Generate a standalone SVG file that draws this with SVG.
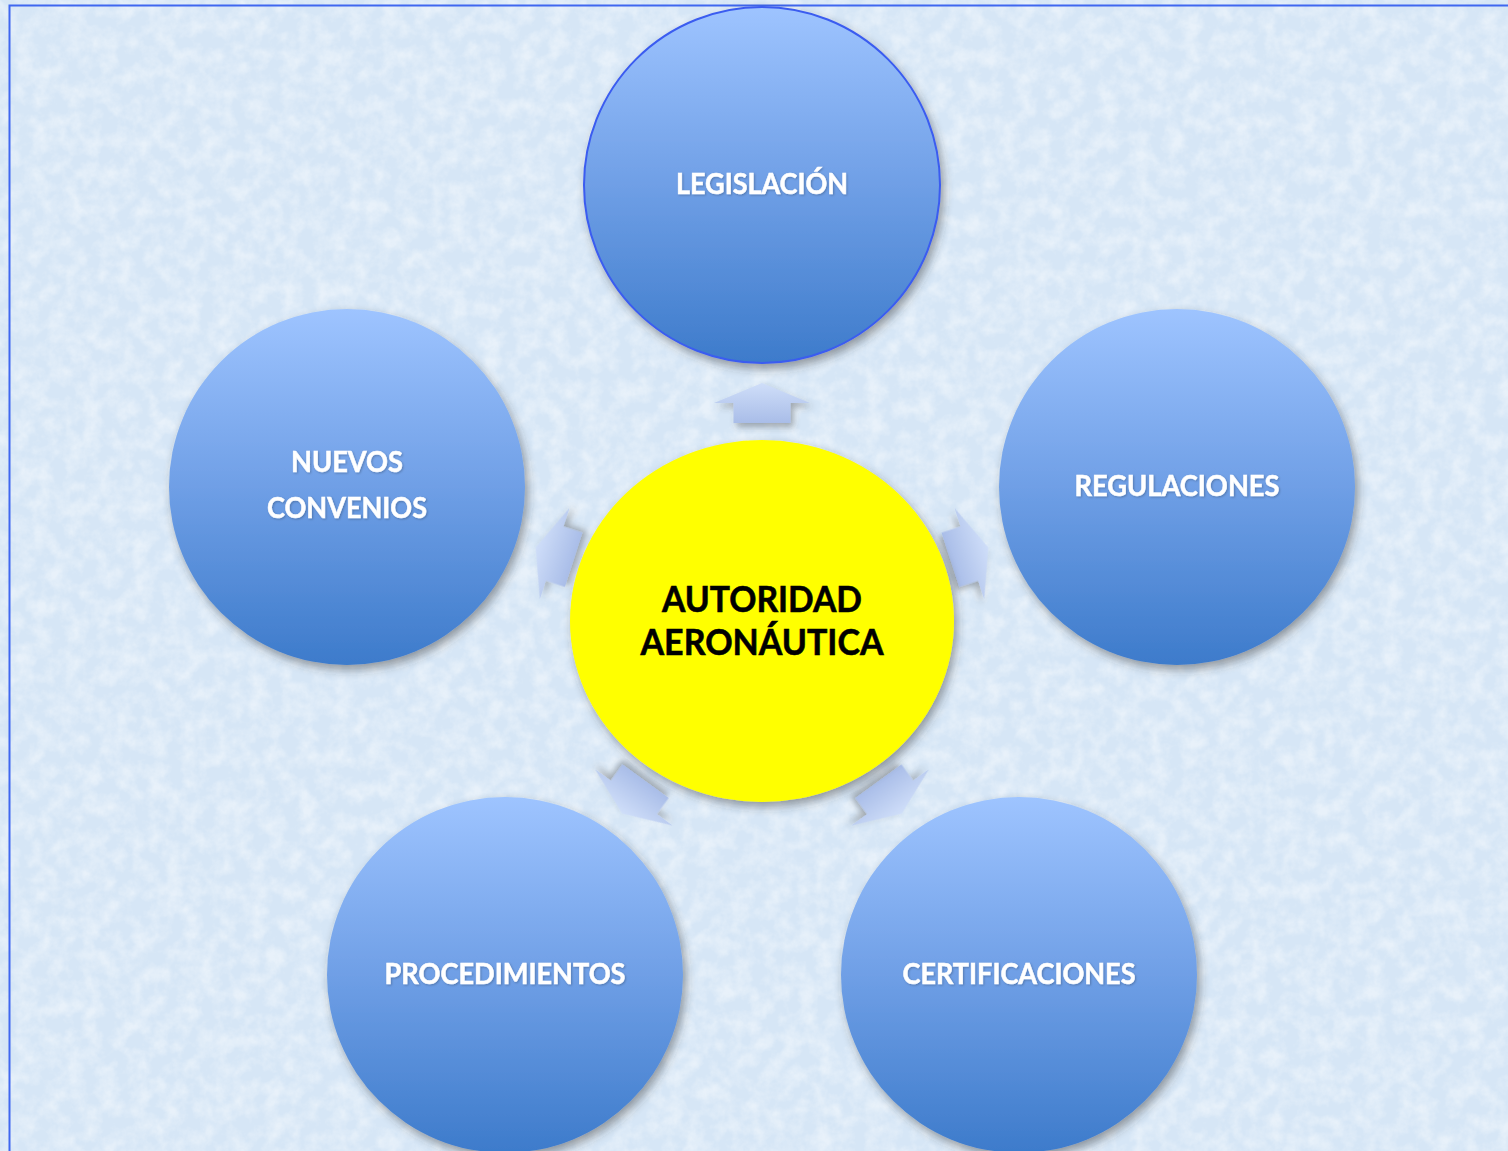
<svg xmlns="http://www.w3.org/2000/svg" xmlns:xlink="http://www.w3.org/1999/xlink" width="1508" height="1151" viewBox="0 0 1508 1151">
  <defs>
    <style>
      .lbl { font-family: Lato, "Open Sans", "Liberation Sans", sans-serif; font-weight: bold; fill: #ffffff; stroke: #ffffff; stroke-width: 0.5px; font-size: 28px; text-anchor: middle; }
      .ctr { font-family: Lato, "Open Sans", "Liberation Sans", sans-serif; font-weight: bold; fill: #000000; stroke: #000000; stroke-width: 0.6px; font-size: 37px; text-anchor: middle; }
      .node { fill: url(#blueGrad); filter: url(#shadow); }
      .arrow { fill: url(#arrowGrad); filter: url(#ashadow); }
    </style>
    <linearGradient id="blueGrad" x1="0" y1="0" x2="0" y2="1">
      <stop offset="0" stop-color="#9ec4ff"/>
      <stop offset="0.5" stop-color="#6f9fe6"/>
      <stop offset="1" stop-color="#3d7bcb"/>
    </linearGradient>
    <linearGradient id="arrowGrad" x1="0" y1="0" x2="0" y2="1">
      <stop offset="0" stop-color="#cfdef9"/>
      <stop offset="1" stop-color="#a9bde8"/>
    </linearGradient>
    <filter id="shadow" x="-20%" y="-20%" width="140%" height="140%">
      <feDropShadow dx="3" dy="5" stdDeviation="5" flood-color="#333333" flood-opacity="0.45"/>
    </filter>
    <filter id="ashadow" x="-40%" y="-40%" width="180%" height="180%">
      <feDropShadow dx="3" dy="4" stdDeviation="3" flood-color="#444444" flood-opacity="0.4"/>
    </filter>
    <filter id="tshadow" x="-10%" y="-30%" width="120%" height="160%">
      <feDropShadow dx="1" dy="1" stdDeviation="0.8" flood-color="#000000" flood-opacity="0.25"/>
    </filter>
    <filter id="texture" x="0" y="0" width="100%" height="100%">
      <feTurbulence type="fractalNoise" baseFrequency="0.06" numOctaves="4" seed="7" result="n"/>
      <feColorMatrix in="n" type="matrix" values="0 0 0 0 1  0 0 0 0 1  0 0 0 0 1  0 0 0 -2.0 1.3" />
    </filter>
    <path id="arr" d="M762,383 L810,403 L790.5,403 L790.5,423 L733.5,423 L733.5,403 L714,403 Z"/>
  </defs>

  <!-- background -->
  <rect x="0" y="0" width="1508" height="1151" fill="#d6e6f6"/>
  <rect x="0" y="0" width="1508" height="1151" filter="url(#texture)" opacity="0.45"/>
  <rect x="9.5" y="5.5" width="1520" height="1160" fill="none" stroke="#3f67f0" stroke-width="2"/>

  <g id="connectors">
    <use xlink:href="#arr" class="arrow"/>
    <use xlink:href="#arr" class="arrow" transform="rotate(72 762 621)"/>
    <use xlink:href="#arr" class="arrow" transform="rotate(144 762 621)"/>
    <use xlink:href="#arr" class="arrow" transform="rotate(-144 762 621)"/>
    <use xlink:href="#arr" class="arrow" transform="rotate(-72 762 621)"/>
  </g>

  <g id="node-legislacion">
    <circle class="node" cx="762" cy="185" r="178" stroke="#3a5cf0" stroke-width="2"/>
    <text class="lbl" x="762" y="194" textLength="172" lengthAdjust="spacingAndGlyphs" filter="url(#tshadow)">LEGISLACIÓN</text>
  </g>

  <g id="node-nuevos-convenios">
    <circle class="node" cx="347" cy="487" r="178"/>
    <text class="lbl" x="347" y="472" textLength="112" lengthAdjust="spacingAndGlyphs" filter="url(#tshadow)">NUEVOS</text>
    <text class="lbl" x="347" y="518" textLength="160" lengthAdjust="spacingAndGlyphs" filter="url(#tshadow)">CONVENIOS</text>
  </g>

  <g id="node-regulaciones">
    <circle class="node" cx="1177" cy="487" r="178"/>
    <text class="lbl" x="1177" y="496" textLength="205" lengthAdjust="spacingAndGlyphs" filter="url(#tshadow)">REGULACIONES</text>
  </g>

  <g id="node-procedimientos">
    <circle class="node" cx="505" cy="975" r="178"/>
    <text class="lbl" x="505" y="984" textLength="241" lengthAdjust="spacingAndGlyphs" filter="url(#tshadow)">PROCEDIMIENTOS</text>
  </g>

  <g id="node-certificaciones">
    <circle class="node" cx="1019" cy="975" r="178"/>
    <text class="lbl" x="1019" y="984" textLength="233" lengthAdjust="spacingAndGlyphs" filter="url(#tshadow)">CERTIFICACIONES</text>
  </g>

  <g id="node-autoridad">
    <ellipse cx="762" cy="621" rx="192" ry="181" fill="#ffff00" filter="url(#shadow)"/>
    <text class="ctr" x="762" y="612" textLength="200" lengthAdjust="spacingAndGlyphs">AUTORIDAD</text>
    <text class="ctr" x="762" y="655" textLength="243" lengthAdjust="spacingAndGlyphs">AERONÁUTICA</text>
  </g>
</svg>
